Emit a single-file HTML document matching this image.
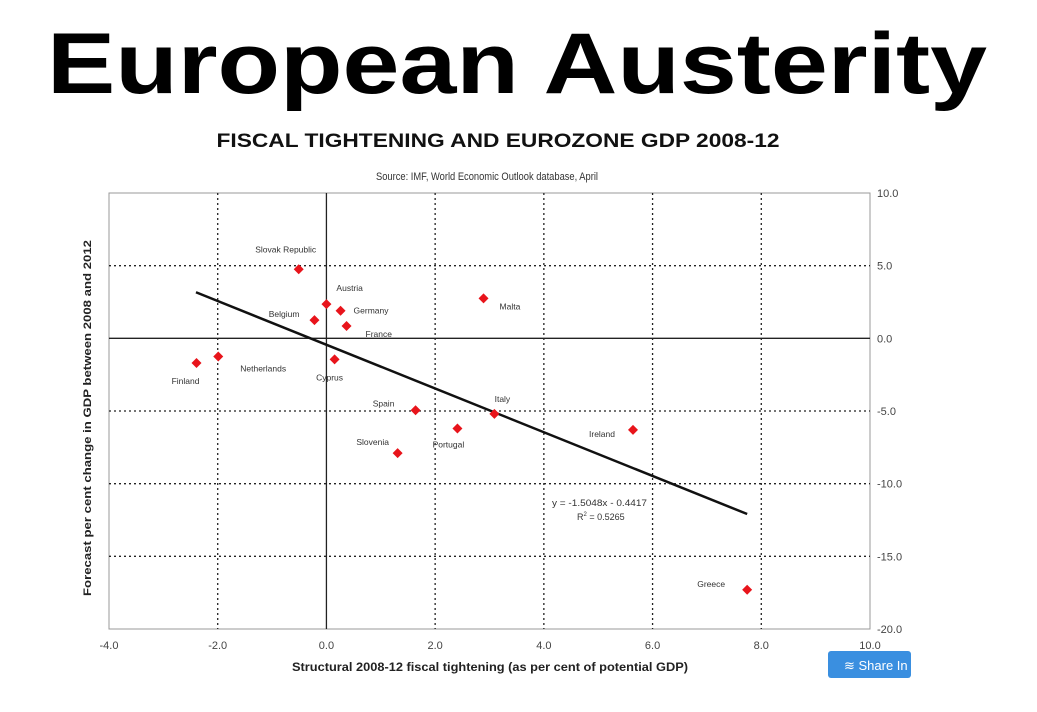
<!DOCTYPE html>
<html><head><meta charset="utf-8">
<style>
html,body{margin:0;padding:0;background:#fff;}
svg{display:block;font-family:"Liberation Sans",Arial,sans-serif;}
</style></head>
<body>
<svg id="chart" width="1037" height="712" viewBox="0 0 1037 712" xmlns="http://www.w3.org/2000/svg">
<text x="517" y="93" text-anchor="middle" font-size="86" font-weight="bold" textLength="940" lengthAdjust="spacingAndGlyphs">European Austerity</text>
<text x="498" y="147" text-anchor="middle" font-size="19" font-weight="bold" fill="#111" textLength="563" lengthAdjust="spacingAndGlyphs">FISCAL TIGHTENING AND EUROZONE GDP 2008-12</text>
<text x="487" y="180" text-anchor="middle" font-size="11" fill="#333" textLength="222" lengthAdjust="spacingAndGlyphs">Source: IMF, World Economic Outlook database, April</text>
<rect x="109" y="193" width="761" height="436" fill="none" stroke="#999" stroke-width="1"/>
<g id="grid"></g>
<g id="axes"></g>
<g id="trend"></g>
<g id="points"></g>
<text x="552" y="506" font-size="9" fill="#333" textLength="95" lengthAdjust="spacingAndGlyphs">y = -1.5048x - 0.4417</text>
<text x="577" y="520" font-size="9" fill="#333">R<tspan font-size="6" dy="-4">2</tspan><tspan dy="4"> = 0.5265</tspan></text>
<text transform="translate(91,418) rotate(-90)" text-anchor="middle" font-size="11" font-weight="bold" fill="#222" textLength="356" lengthAdjust="spacingAndGlyphs">Forecast per cent change in GDP between 2008 and 2012</text>
<text x="490" y="671" text-anchor="middle" font-size="12" font-weight="bold" fill="#222" textLength="396" lengthAdjust="spacingAndGlyphs">Structural 2008-12 fiscal tightening (as per cent of potential GDP)</text>
<g>
<rect x="828" y="651" width="83" height="27" rx="3" fill="#3a8fe0"/>
<text x="844" y="670" font-size="13" fill="#fff">≋ Share In</text>
</g>
</svg>
<script>
const xTicks=[-4,-2,0,2,4,6,8,10];
const yTicks=[10,5,0,-5,-10,-15,-20];
const countries=["Slovak Republic","Austria","Germany","Belgium","France","Malta","Finland","Netherlands","Cyprus","Spain","Italy","Portugal","Slovenia","Ireland","Greece"];
const tightening=[-0.51,0.0,0.26,-0.22,0.37,2.89,-2.39,-1.99,0.15,1.64,3.09,2.41,1.31,5.64,7.74];
const gdpChange=[4.75,2.35,1.9,1.25,0.85,2.75,-1.7,-1.25,-1.45,-4.95,-5.2,-6.2,-7.9,-6.3,-17.3];
const trendSlope=-1.5048, trendIntercept=-0.4417;
const trendRange=[-2.4,7.74];
// label offsets in px [dx,dy,anchor]
const labelOff=[[-13,-20,"middle"],[10,-16,"start"],[13,0,"start"],[-15,-6,"end"],[19,8,"start"],[16,8,"start"],[-11,18,"middle"],[22,12,"start"],[-5,18,"middle"],[-32,-7,"middle"],[8,-15,"middle"],[-9,16,"middle"],[-25,-11,"middle"],[-18,4,"end"],[-36,-6,"middle"]];
const X0=109,X1=870,Y0=193,Y1=629;
const sx=v=>X0+(v-(-4))/(14)*(X1-X0);
const sy=v=>Y0+(10-v)/30*(Y1-Y0);
const NS="http://www.w3.org/2000/svg";
function mk(tag,attrs,parent){const e=document.createElementNS(NS,tag);for(const k in attrs)e.setAttribute(k,attrs[k]);parent.appendChild(e);return e;}
const grid=document.getElementById('grid'),axes=document.getElementById('axes');
xTicks.forEach(t=>{
  if(t>-4&&t<10&&t!==0){const l=mk('line',{x1:sx(t),x2:sx(t),y1:Y0,y2:Y1,stroke:'#222','stroke-width':1.3,'stroke-dasharray':'2,3'},grid);
  
  }
  const tx=mk('text',{x:sx(t),y:649,'text-anchor':'middle','font-size':11,fill:'#444'},axes);tx.textContent=t.toFixed(1);
  
  
});
yTicks.forEach(t=>{
  if(t<10&&t>-20&&t!==0){const l=mk('line',{x1:X0,x2:X1,y1:sy(t),y2:sy(t),stroke:'#222','stroke-width':1.3,'stroke-dasharray':'2,3'},grid);
  
  }
  const tx=mk('text',{x:877,y:sy(t)+4,'font-size':11,fill:'#444'},axes);tx.textContent=t.toFixed(1);
  
  
});
const zx=mk('line',{x1:sx(0),x2:sx(0),y1:Y0,y2:Y1,stroke:'#222','stroke-width':1.3},axes);


const zy=mk('line',{x1:X0,x2:X1,y1:sy(0),y2:sy(0),stroke:'#222','stroke-width':1.3},axes);


const tl=mk('line',{x1:sx(trendRange[0]),y1:sy(trendSlope*trendRange[0]+trendIntercept),x2:sx(trendRange[1]),y2:sy(trendSlope*trendRange[1]+trendIntercept),stroke:'#111','stroke-width':2.5},document.getElementById('trend'));


const pg=document.getElementById('points');
countries.forEach((c,i)=>{
  const x=sx(tightening[i]),y=sy(gdpChange[i]);
  const p=mk('path',{d:`M${x} ${y-5}L${x+5} ${y}L${x} ${y+5}L${x-5} ${y}Z`,fill:'#e8141b'},pg);
  
  
  const o=labelOff[i];
  const t=mk('text',{x:x+o[0],y:y+o[1]+3,'text-anchor':o[2],'font-size':8.5,fill:'#333'},pg);
  t.textContent=c;
  
  
});
</script>
</body></html>
